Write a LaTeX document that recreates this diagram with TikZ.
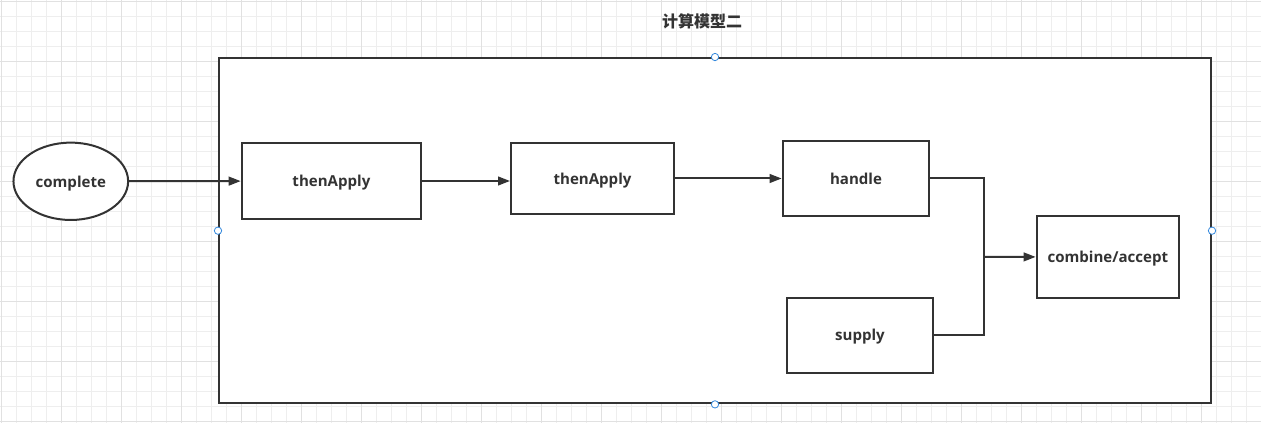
\documentclass[tikz,border=0pt]{standalone}
\usepackage{fontspec}
\usepackage{tikz}
\usetikzlibrary{shapes.geometric,arrows.meta}
\setmainfont{Open Sans}
\newfontfamily\cjk{Noto Sans CJK SC}
\definecolor{linegray}{RGB}{51, 51, 51}
\definecolor{gridminor}{RGB}{238, 238, 238}
\definecolor{gridmajor}{RGB}{225, 225, 225}
\definecolor{handleblue}{RGB}{51, 136, 221}

\begin{document}
\begin{tikzpicture}[
        x=0.75pt, y=-0.75pt,
        block/.style={rectangle, draw=linegray, line width=1.5pt, fill=white, text=linegray, text depth=0pt, font=\bfseries\fontsize{11.3}{13}\selectfont},
        oval/.style={ellipse, draw=linegray, line width=1.5pt, fill=white, text=linegray, text depth=0pt, inner sep=0pt, font=\bfseries\fontsize{11.3}{13}\selectfont},
        flow/.style={-{Triangle[length=9pt, width=6.5pt]}, line width=1.5pt, color=linegray},
        link/.style={line width=1.5pt, color=linegray},
        grip/.style={circle, draw=handleblue, fill=white, line width=0.6pt, minimum size=5.5pt, inner sep=0pt}
    ]
    \useasboundingbox (0,0) rectangle (1261,423);
    
    % Background grid
    \foreach \gx in {0,...,84} {
        \draw[gridminor, line width=0.6pt] ({1.7+15*\gx},0) -- ({1.7+15*\gx},423);
    }
    \foreach \gy in {0,...,28} {
        \draw[gridminor, line width=0.6pt] (0,{1.7+15*\gy}) -- (1261,{1.7+15*\gy});
    }
    \foreach \gx in {0,...,21} {
        \draw[gridmajor, line width=0.6pt] ({1.7+60*\gx},0) -- ({1.7+60*\gx},423);
    }
    \foreach \gy in {0,...,7} {
        \draw[gridmajor, line width=0.6pt] (0,{1.7+60*\gy}) -- (1261,{1.7+60*\gy});
    }
    
    % Title and outer frame
    \node[text=linegray, font=\cjk\bfseries\fontsize{12}{14}\selectfont] (title) at (702, 21) {计算模型二};
    \node[block, minimum width=744pt, minimum height=259pt] (frame) at (715, 230.7) {};
    
    % Steps
    \node[oval, minimum width=86pt, minimum height=58pt] (complete) at (70.8, 181.3) {complete};
    \node[block, minimum width=134.5pt, minimum height=57.2pt] (apply1) at (331.4, 181) {thenApply};
    \node[block, minimum width=122.2pt, minimum height=53pt] (apply2) at (592.5, 178.5) {thenApply};
    \node[block, minimum width=110pt, minimum height=56.5pt] (handle) at (856, 178.5) {handle};
    \node[block, minimum width=106.7pt, minimum height=61.3pt] (combine) at (1107.8, 256.8) {combine/accept};
    \node[block, minimum width=109.5pt, minimum height=56.2pt] (supply) at (860, 335.2) {supply};
    \coordinate (join) at (984, 257);
    
    % Flows
    \draw[flow] (complete) -- (apply1);
    \draw[flow] (apply1) -- (apply1 -| apply2.west);
    \draw[flow] (apply2) -- (handle);
    \draw[link] (handle.east) -| (join);
    \draw[link] (supply.east) -| (join);
    \draw[flow] (join) -- (combine);
    
    % Selection grips on the frame
    \foreach \side in {north, south, east, west} {
        \node[grip] at (frame.\side) {};
    }
    
    \end{tikzpicture}
\end{document}
